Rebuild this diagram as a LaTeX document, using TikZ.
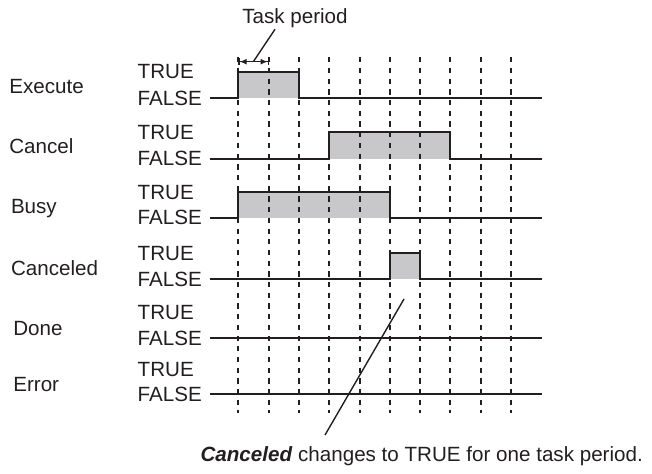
\documentclass[tikz,border=0pt]{standalone}
\usepackage{fontspec}
\setmainfont{Liberation Sans}
\usetikzlibrary{arrows.meta}
\definecolor{ink}{RGB}{35,31,32}
\definecolor{pulsefill}{RGB}{200,200,202}
\begin{document}
\begin{tikzpicture}[x=1pt,y=-1pt,
  txt/.style={inner sep=0pt,outer sep=0pt,text=ink,font=\fontsize{20.6}{24}\selectfont},
  sig/.style={draw=ink,line width=2.1pt,line join=miter},
  pulse/.style={fill=pulsefill,draw=none},
  grid/.style={draw=ink,line width=2pt,dash pattern=on 5.2pt off 5.5pt},
  thin/.style={draw=ink,line width=1.4pt}]
\useasboundingbox (0,0) rectangle (652,473);
% pulse fills
\fill[pulse] (238.3,71.7) rectangle (298.9,98.3);
\fill[pulse] (329.2,132.3) rectangle (450.4,158.8);
\fill[pulse] (238.3,192.3) rectangle (389.8,217.7);
\fill[pulse] (389.8,253.3) rectangle (420.1,279.3);
% dashed period lines
\foreach \i in {0,...,9}{
  \draw[grid] ({238.3+30.3*\i},57.3) -- ({238.3+30.3*\i},413);
}
% signal labels
\node[txt,anchor=base west] (lexe) at (9.3,93.3) {Execute};
\node[txt,anchor=base west] (lcan) at (9.3,153.3) {Cancel};
\node[txt,anchor=base west] (lbusy) at (11,213.3) {Busy};
\node[txt,anchor=base west] (lcand) at (11,275) {Canceled};
\node[txt,anchor=base west] (ldone) at (13.3,335) {Done};
\node[txt,anchor=base west] (lerr) at (13.3,391) {Error};
% TRUE / FALSE
\foreach \n/\h/\l in {a/71.7/98.3,b/132.3/158.8,c/192.3/217.7,d/253.3/279.3,e/312.3/338.3,f/369.6/394.1}{
  \node[txt,anchor=west] (t\n) at (137.7,\h) {TRUE};
  \node[txt,anchor=west] (f\n) at (137.7,\l) {FALSE};
}
% waveforms
\draw[sig] (210,98.3) -- (238.3,98.3) -- (238.3,71.7) -- (298.9,71.7) -- (298.9,98.3) -- (541.5,98.3);
\draw[sig] (210,158.8) -- (329.2,158.8) -- (329.2,132.3) -- (450.4,132.3) -- (450.4,158.8) -- (541.5,158.8);
\draw[sig] (210,217.7) -- (238.3,217.7) -- (238.3,192.3) -- (389.8,192.3) -- (389.8,217.7) -- (541.5,217.7);
\draw[sig] (210,279.3) -- (389.8,279.3) -- (389.8,253.3) -- (420.1,253.3) -- (420.1,279.3) -- (541.5,279.3);
\draw[sig] (210,338.3) -- (541.5,338.3);
\draw[sig] (210,394.1) -- (541.5,394.1);
% task period
\coordinate (pa) at (238.3,61.7);
\coordinate (pb) at (269,61.7);
\coordinate (pm) at (253.3,61.7);
\coordinate (pt) at (275,29.3);
\draw[thin,{Bar[width=7pt]Latex[length=7pt,width=6pt]}-{Latex[length=7pt,width=6pt]Bar[width=7pt]}] (pa) -- (pb);
\node[txt,anchor=base] (taskp) at (295,24) {Task period};
\draw[thin] (pm) -- (pt);
% note
\node[txt,anchor=base west] (note) at (200.5,461.7) {\textbf{\textit{Canceled}} changes to TRUE for one task period.};
\coordinate (na) at (325,435);
\coordinate (nb) at (404,299);
\draw[thin] (na) -- (nb);
\end{tikzpicture}
\end{document}
